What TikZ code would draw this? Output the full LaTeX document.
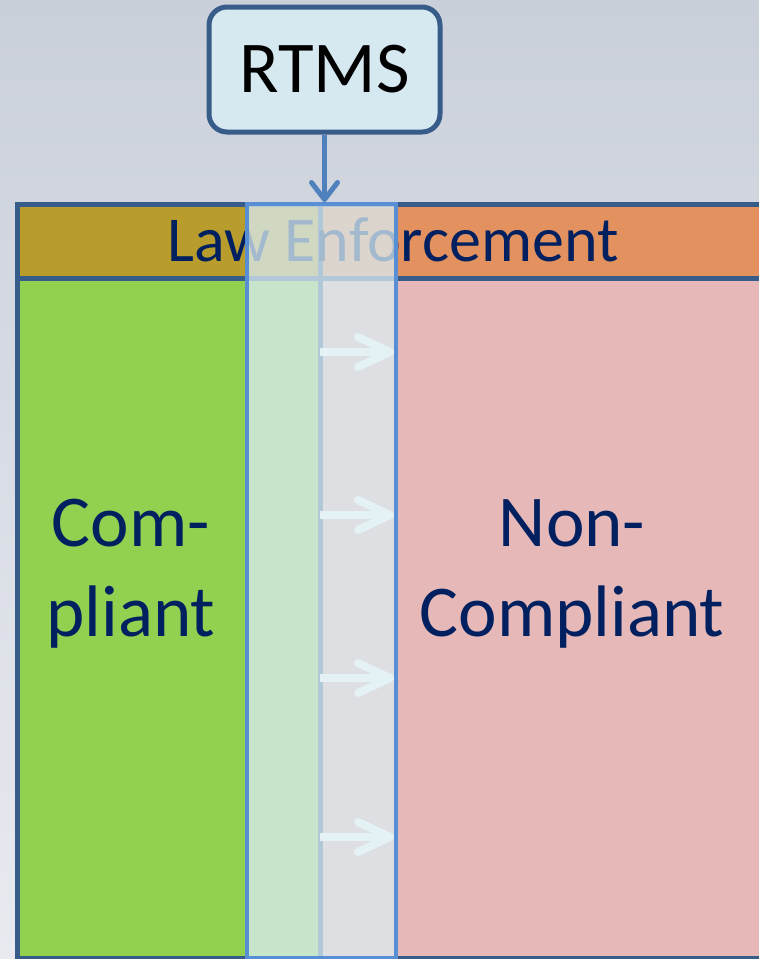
\documentclass[tikz,border=0pt]{standalone}
\usepackage{fontspec}
\setmainfont{Carlito}
\usepackage{xcolor}
\usetikzlibrary{arrows.meta,positioning,calc}

\definecolor{frameblue}{RGB}{56,92,138}
\definecolor{bandblue}{RGB}{88,142,212}
\definecolor{arrowblue}{RGB}{79,129,189}
\definecolor{navytext}{RGB}{0,32,96}
\definecolor{hdrgold}{RGB}{184,156,44}
\definecolor{hdrorange}{RGB}{227,145,95}
\definecolor{okgreen}{RGB}{146,208,80}
\definecolor{badpink}{RGB}{230,184,183}
\definecolor{veil}{RGB}{218,237,243}
\definecolor{boxfill}{RGB}{214,232,240}
\definecolor{flowwhite}{RGB}{228,242,246}
\definecolor{bgtop}{RGB}{202,208,218}
\definecolor{bgbot}{RGB}{232,234,240}

\begin{document}
\begin{tikzpicture}[x=1pt, y=-1pt,
  big/.style={font=\fontsize{73}{90}\selectfont, align=center, text=navytext, inner sep=0pt},
  grid/.style={draw=frameblue, line width=5pt},
  rtmsbox/.style={draw=frameblue, line width=5pt, rounded corners=18pt, fill=boxfill,
    minimum width=231pt, minimum height=125pt, inner sep=0pt, font=\fontsize{73}{90}\selectfont},
  band/.style={draw=bandblue, line width=4pt, fill=veil, fill opacity=0.75,
    minimum width=149pt, minimum height=754pt, inner sep=0pt},
  flow/.style={draw=flowwhite, line width=8pt, -{Straight Barb[length=32pt, width=30pt, round]}},
  >=Stealth]
  \useasboundingbox (0,0) rectangle (759,959);
  \clip (0,0) rectangle (759,959);
  \shade[top color=bgtop, bottom color=bgbot] (0,0) rectangle (759,959);
  % table cells
  \fill[hdrgold]   (15,204) rectangle (320,278);
  \fill[hdrorange] (320,204) rectangle (790,278);
  \fill[okgreen]   (15,278) rectangle (320,958);
  \fill[badpink]   (320,278) rectangle (790,958);
  \draw[grid] (17,204) rectangle (790,958);
  \draw[grid] (17,278) -- (790,278);
  \draw[grid] (320,204) -- (320,958);
  % labels
  \node[big, font=\fontsize{64}{76}\selectfont, anchor=base] (law) at (393,261) {Law Enforcement};
  \node[big] (comp) at (131,574) {Com-\\pliant};
  \node[big] (noncomp) at (572,574) {Non-\\Compliant};
  % RTMS band
  \node[band] (strip) at (321.5,581) {};
  \foreach \y [count=\i] in {352,515,678,837} {
    \coordinate (s\i) at (320,\y);
    \coordinate (e\i) at (394,\y);
    \draw[flow] (s\i) -- (e\i);
  }
  \node[rtmsbox] (rtms) at (324.5,69.5) {RTMS};
  \draw[->, draw=arrowblue, line width=5pt, -{Straight Barb[length=17pt, width=26pt, round]}]
    (rtms.south) -- (rtms.south |- strip.north);
\end{tikzpicture}
\end{document}
